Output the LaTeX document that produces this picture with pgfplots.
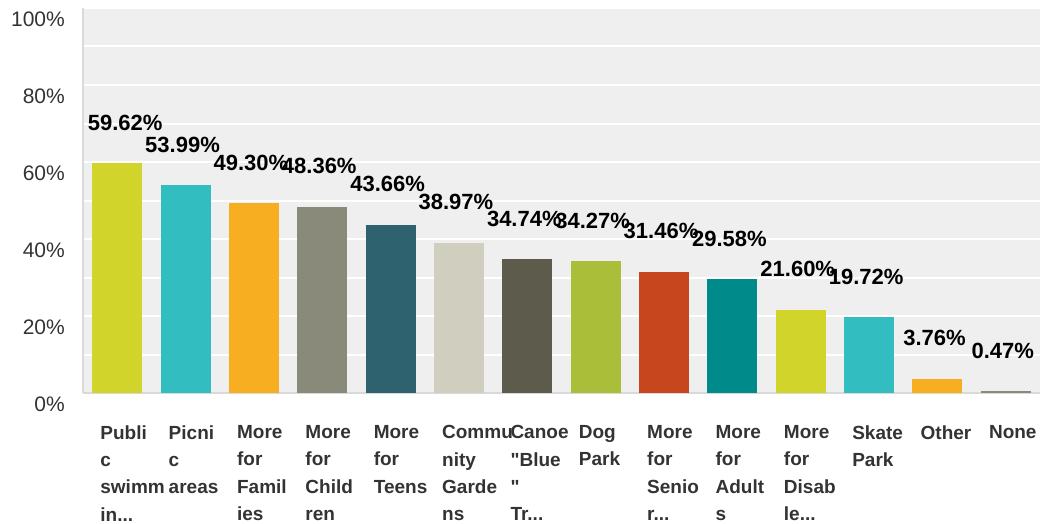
\documentclass[border=0pt]{standalone}
\usepackage{fontspec}
\setmainfont{Liberation Sans}[Ligatures=TeXOff]
\usepackage{pgfplots}
\pgfplotsset{compat=1.18}
\definecolor{bgc}{HTML}{EFEFEF}
\definecolor{axc}{HTML}{D9D9D9}
\definecolor{txt}{HTML}{333333}
\definecolor{c1}{HTML}{D1D42A}
\definecolor{c2}{HTML}{32BEC0}
\definecolor{c3}{HTML}{F7AF21}
\definecolor{c4}{HTML}{8A8A7A}
\definecolor{c5}{HTML}{2E626F}
\definecolor{c6}{HTML}{D0CEBE}
\definecolor{c7}{HTML}{5D5B4B}
\definecolor{c8}{HTML}{AABE39}
\definecolor{c9}{HTML}{C8461E}
\definecolor{c10}{HTML}{008A8A}
\newcommand{\dd}{.{}.{}.}
\newcommand{\qq}{\char34\relax}
\begin{document}
\begin{tikzpicture}
\useasboundingbox (0,0) rectangle (1040pt,523pt);
\begin{axis}[
  at={(83pt,130pt)}, anchor=south west,
  width=957pt, height=385pt, scale only axis,
  xmin=-0.5, xmax=13.5, ymin=0, ymax=100,
  clip=false,
  axis background/.style={fill=bgc},
  axis x line*=bottom, axis y line*=left,
  axis line style={draw=axc, line width=2.5pt},
  tick style={draw=none},
  ytick={0,20,...,100},
  minor ytick={10,30,...,90},
  ymajorgrids, yminorgrids,
  major grid style={draw=white, line width=2pt},
  minor grid style={draw=white, line width=2pt},
  /pgf/number format/assume math mode=true,
  yticklabel={\pgfmathprintnumber{\tick}\%},
  yticklabel style={anchor=east, inner sep=0pt, xshift=-18pt, yshift=-11pt,
    text=txt, font=\fontsize{21}{24}\selectfont},
  xtick={0,1,2,3,4,5,6,7,8,9,10,11,12,13},
  xticklabels={
    {Publi\\c\\swimm\\in\dd},
    {Picni\\c\\areas},
    {More\\for\\Famil\\ies},
    {More\\for\\Child\\ren},
    {More\\for\\Teens},
    {Commu\\nity\\Garde\\ns},
    {Canoe\\\qq Blue\\\qq\\Tr\dd},
    {Dog\\Park},
    {More\\for\\Senio\\r\dd},
    {More\\for\\Adult\\s},
    {More\\for\\Disab\\le\dd},
    {Skate\\Park},
    {Other},
    {None}},
  xticklabel style={anchor=north west, align=left, inner sep=0pt,
    xshift=-17pt, yshift=-28pt, text=txt,
    font=\fontsize{19}{27.3}\selectfont\bfseries},
  ybar, bar width=50pt, bar shift=0pt,
  nodes near coords={\pgfmathprintnumber[fixed,fixed zerofill,precision=2]{\pgfplotspointmeta}\%},
  every node near coord/.append style={anchor=base, yshift=33pt, xshift=-3pt,
    text=black, inner sep=0pt, font=\fontsize{22}{26}\selectfont\bfseries},
]
\addplot[fill=c1, draw=none, every node near coord/.append style={xshift=11pt}] coordinates {(0,59.62)};
\addplot[fill=c2, draw=none] coordinates {(1,53.99)};
\addplot[fill=c3, draw=none] coordinates {(2,49.30)};
\addplot[fill=c4, draw=none] coordinates {(3,48.36)};
\addplot[fill=c5, draw=none] coordinates {(4,43.66)};
\addplot[fill=c6, draw=none] coordinates {(5,38.97)};
\addplot[fill=c7, draw=none] coordinates {(6,34.74)};
\addplot[fill=c8, draw=none] coordinates {(7,34.27)};
\addplot[fill=c9, draw=none] coordinates {(8,31.46)};
\addplot[fill=c10, draw=none] coordinates {(9,29.58)};
\addplot[fill=c1, draw=none] coordinates {(10,21.60)};
\addplot[fill=c2, draw=none] coordinates {(11,19.72)};
\addplot[fill=c3, draw=none] coordinates {(12,3.76)};
\addplot[fill=c4, draw=none] coordinates {(13,0.47)};
\end{axis}
\end{tikzpicture}
\end{document}
